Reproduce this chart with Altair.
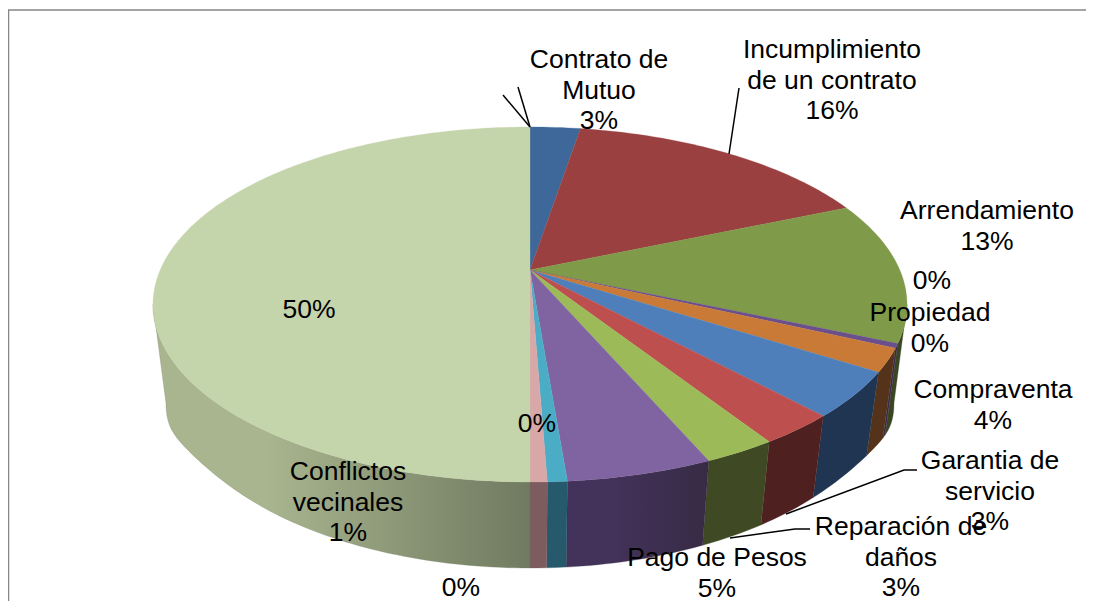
import numpy as np
import altair as alt

# --- data -----------------------------------------------------------------
categories = ["Contrato de Mutuo", "Incumplimiento de un contrato", "Arrendamiento", "Otros",
              "Propiedad", "Compraventa", "Garantia de servicio", "Reparación de daños",
              "Pago de Pesos", "Conflictos vecinales", "Sin dato", "Resto"]
values = [2.6, 16.0, 12.9, 0.4, 2.1, 4.1, 2.8, 2.6, 5.2, 0.7, 0.6, 50.0]

top_colors = ["#3E6899", "#9A4040", "#7F9A48", "#6B4E8C", "#C87A36", "#4F7FBB",
              "#BD4F4E", "#9CBB58", "#8064A2", "#4BACC6", "#D8A7A7", "#C4D4AB"]
side_left = ["#22395A", "#5A2525", "#3A4621", "#3A2B4E", "#54331A", "#1F3551",
             "#4F2020", "#3F4A24", "#43325A", "#26596B", "#7C5C5E", "#A9B58F"]
side_right = ["#22395A", "#5A2525", "#3A4621", "#3A2B4E", "#54331A", "#1F3551",
              "#4F2020", "#3F4A24", "#372B45", "#26596B", "#7C5C5E", "#6F7A60"]

label_text = ["Contrato de\nMutuo\n3%", "Incumplimiento\nde un contrato\n16%", "Arrendamiento\n13%",
              "0%", "Propiedad\n0%", "Compraventa\n4%", "Garantia de\nservicio\n3%",
              "Reparación de\ndaños\n3%", "Pago de Pesos\n5%", "0%", "Conflictos\nvecinales\n1%",
              "0%", "50%"]
label_x = [599, 832, 987, 932, 930, 993, 990, 901, 717, 537, 348, 461, 309]
label_y = [60, 50, 211, 281, 313, 390, 461, 527, 558, 424, 472, 588, 310]

leaders = [[(530, 127), (503, 95)],
           [(530, 127), (518, 87)],
           [(739, 88), (729, 154)],
           [(917, 470), (904, 470), (786, 514)],
           [(810, 529), (795, 529), (730, 538)]]

OX, OY = 8, 8
CX, CY, A, B, K = 530.0, 270.0, 369.8, 170.8, 0.1944
BOTTOM_Y, FRONT_Y, SX, SY = 568.0, 482.0, 0.9655, 1.07
SAG, SAG_POWER = 25.0, 20
TH_R = np.arccos(-K)
TH_L = 2 * np.pi - TH_R


def top_xy(theta):
    d = 1 + K * np.cos(theta)
    return CX + A * np.sin(theta) / d, CY - B * np.cos(theta) / d


def bottom_xy(theta):
    x, y = top_xy(theta)
    n = min(1.0, abs(x - CX) / 377.0)
    return CX + SX * (x - CX), BOTTOM_Y - SY * (FRONT_Y - y) + SAG * n ** SAG_POWER


def feature(points, name, kind="Polygon"):
    coords = [[float(x - OX), float(y - OY)] for x, y in points]
    if kind == "Polygon":
        geom = {"type": "Polygon", "coordinates": [coords + [coords[0]]]}
    else:
        geom = {"type": "LineString", "coordinates": coords}
    return {"type": "Feature", "properties": {"name": name}, "geometry": geom}


edges = np.cumsum([0.0] + values) / sum(values) * 2 * np.pi
arcs = [np.linspace(a, b, max(3, int((b - a) * 60))) for a, b in zip(edges[:-1], edges[1:])]

W, H = 1078, 593


def geo(features):
    return alt.Chart(alt.Data(values=features)).project(type="identity", scale=1, translate=[0, 0])


layers = []
# frame
frame = [feature([(8, 10), (1086, 10)], "top", "LineString"),
         feature([(8.5, 10), (8.5, 601)], "left", "LineString")]
layers.append(geo(frame).mark_geoshape(filled=False, stroke="#868686", strokeWidth=1.5))

# sides: only the part of each slice between the two silhouette points
for i in range(len(values)):
    a, b = max(edges[i], TH_R), min(edges[i + 1], TH_L)
    if b <= a:
        continue
    th = np.linspace(a, b, max(3, int((b - a) * 60)))
    pts = [top_xy(t) for t in th] + [bottom_xy(t) for t in th[::-1]]
    grad = alt.Gradient(gradient="linear", x1=0, x2=1, y1=0, y2=0,
                        stops=[alt.GradientStop(offset=0, color=side_left[i]),
                               alt.GradientStop(offset=0.3, color=side_left[i]),
                               alt.GradientStop(offset=1, color=side_right[i])])
    layers.append(geo([feature(pts, categories[i])]).mark_geoshape(fill=grad, stroke=side_right[i], strokeWidth=0.3))

# top face
tops = []
for i in range(len(values)):
    pts = [(CX, CY)] + [top_xy(t) for t in arcs[i]]
    tops.append(feature(pts, categories[i]))
layers.append(geo(tops).mark_geoshape(strokeWidth=0.3).encode(
    color=alt.Color("properties.name:N", scale=alt.Scale(domain=categories, range=top_colors), legend=None),
    stroke=alt.Color("properties.name:N", scale=alt.Scale(domain=categories, range=top_colors), legend=None),
))

# leader lines
layers.append(geo([feature(p, "leader", "LineString") for p in leaders]).mark_geoshape(
    filled=False, stroke="#000000", strokeWidth=1.5))

# labels
rows = [{"t": t, "x": x - OX, "y": y - OY} for t, x, y in zip(label_text, label_x, label_y)]
layers.append(alt.Chart(alt.Data(values=rows)).mark_text(
    font="Liberation Sans", fontSize=26.5, lineBreak="\n", lineHeight=30.7, align="center",
    baseline="middle", color="#000000").encode(
    x=alt.X("x:Q", scale=alt.Scale(domain=[0, W], range=[0, W]), axis=None),
    y=alt.Y("y:Q", scale=alt.Scale(domain=[0, H], range=[0, H]), axis=None),
    text="t:N"))

chart = alt.layer(*layers).properties(
    width=W, height=H, padding=0, autosize=alt.AutoSizeParams(type="none"),
    background="#FFFFFF").configure_view(stroke=None)
chart.save("out.html", embed_options={"renderer": "svg", "actions": False})
